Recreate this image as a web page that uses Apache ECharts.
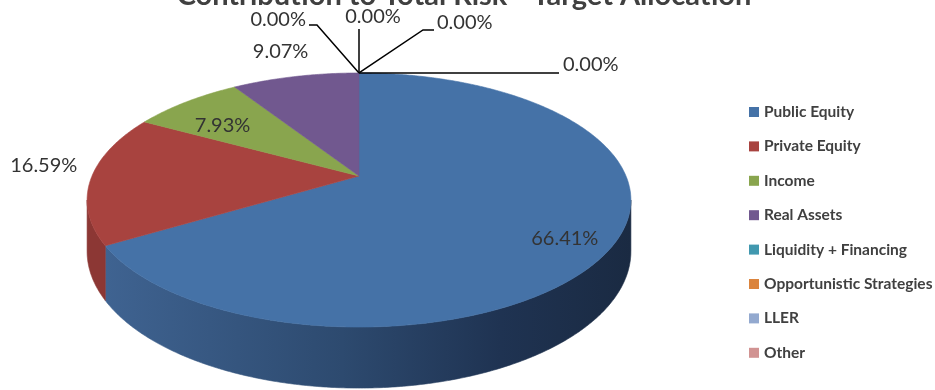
<!DOCTYPE html>
<html>
<head>
<meta charset="utf-8">
<script src="https://cdn.jsdelivr.net/npm/echarts@6/dist/echarts.min.js"></script>
<style>
  html, body { margin: 0; padding: 0; background: #ffffff; }
  #chart { width: 935px; height: 390px; }
</style>
</head>
<body>
<div id="chart"></div>
<script>
// ---- data ----
const categories = ['Public Equity', 'Private Equity', 'Income', 'Real Assets',
  'Liquidity + Financing', 'Opportunistic Strategies', 'LLER', 'Other'];
const riskShare = [66.41, 16.59, 7.93, 9.07, 0.00, 0.00, 0.00, 0.00];
const titleText = 'Contribution to Total Risk - Target Allocation';

// ---- styling ----
const topColors = ['#4572a7', '#a8433f', '#89a54e', '#71588f', '#4198af', '#db843d', '#93a9cf', '#d19392'];
const sideColors = ['#2c4770', '#8c3734', '#6f8a3c', '#5a4673', '#327f92', '#b56a2e', '#7a8fb2', '#b07a79'];
const labelFont = '20px Lato';
const labelColor = '#333333';

// perspective projection of a tilted disc: theta clockwise from 12 o'clock, r in [0,1]
const P = { cx: 359, cy: 176, A: 267, B: 122.5, k: 0.189, H: 49.5 };
function proj(theta, r) {
  const t = theta * Math.PI / 180;
  const u = r * Math.sin(t), v = r * Math.cos(t);
  const w = 1 + P.k * v;
  return [P.cx + P.A * u / w, P.cy - P.B * v / w, w];
}
// visible part of the outer wall (front half between the silhouette extremes)
const wallFrom = Math.acos(-P.k) * 180 / Math.PI;
const wallTo = 360 - wallFrom;

const total = riskShare.reduce((a, b) => a + b, 0);
const startAngle = [];
riskShare.reduce((acc, v, i) => { startAngle[i] = acc / total * 360; return acc + v; }, 0);

// how each value label is placed
const labelMode = ['inside', 'outside', 'inside', 'outside', 'leader', 'leader', 'leader', 'leader'];
// leader lines for the zero-width slices, relative to their anchor on the rim
const leaderLayout = [
  { path: [[0, 0], [-42, -48], [-50, -48]], text: [-53, -53], align: 'right' },
  { path: [[0, 0], [0, -44]], text: [14, -56], align: 'center' },
  { path: [[0, 0], [64, -43], [75, -43]], text: [78, -50], align: 'left' },
  { path: [[0, 0], [200, 0]], text: [204, -8], align: 'left' }
];

function arcPoints(a, b, r) {
  const pts = [];
  const n = Math.max(1, Math.ceil((b - a) / 0.5));
  for (let j = 0; j <= n; j++) pts.push(proj(a + (b - a) * j / n, r));
  return pts;
}

function sideFill(i) {
  if (i === 0) {
    return new echarts.graphic.LinearGradient(105, 0, 632, 0, [
      { offset: 0, color: '#3f6391' },
      { offset: 0.45, color: '#2d4a6f' },
      { offset: 0.75, color: '#1f3352' },
      { offset: 1, color: '#1a2a42' }
    ], true);
  }
  return sideColors[i];
}

function makeRender(i) {
  return function (params, api) {
    const value = riskShare[i];
    const a0 = startAngle[i];
    const a1 = a0 + value / total * 360;
    const children = [];
    const text = value.toFixed(2) + '%';
    if (value > 0) {
      // outer wall
      const wa = Math.max(a0, wallFrom), wb = Math.min(a1, wallTo);
      if (wb > wa) {
        const top = arcPoints(wa, wb, 1);
        const pts = top.map(p => [p[0], p[1]]);
        for (let j = top.length - 1; j >= 0; j--) pts.push([top[j][0], top[j][1] + P.H / top[j][2]]);
        const fill = sideFill(i);
        children.push({ type: 'polygon', z2: 1, shape: { points: pts },
          style: { fill: fill, stroke: fill, lineWidth: 0.6 } });
      }
      // top face
      const c = proj(0, 0);
      const facePts = [[c[0], c[1]]].concat(arcPoints(a0, a1, 1).map(p => [p[0], p[1]]));
      children.push({ type: 'polygon', z2: 5, shape: { points: facePts },
        style: { fill: topColors[i], stroke: topColors[i], lineWidth: 0.6 } });
      // value label
      const mid = (a0 + a1) / 2;
      let lx, ly;
      if (labelMode[i] === 'inside') {
        const p = proj(mid, 0.8); lx = p[0] + 5; ly = p[1] + 10;
      } else {
        const p = proj(mid, 1.15); lx = p[0] - 7; ly = p[1] - 13;
      }
      children.push({ type: 'text', z2: 10, x: lx, y: ly,
        style: { text: text, font: labelFont, fill: labelColor, align: 'center', verticalAlign: 'middle' } });
    } else {
      const anchor = proj(a0 % 360, 1);
      const lay = leaderLayout[i - 4];
      children.push({ type: 'polyline', z2: 8,
        shape: { points: lay.path.map(q => [anchor[0] + q[0], anchor[1] + q[1]]) },
        style: { stroke: '#000000', lineWidth: 1.5, fill: null } });
      children.push({ type: 'text', z2: 10, x: anchor[0] + lay.text[0], y: anchor[1] + lay.text[1],
        style: { text: text, font: labelFont, fill: labelColor, align: lay.align, verticalAlign: 'middle' } });
    }
    return { type: 'group', children: children };
  };
}

const series = categories.map((name, i) => ({
  type: 'custom',
  name: name,
  coordinateSystem: 'none',
  silent: true,
  animation: false,
  itemStyle: { color: topColors[i] },
  data: [[riskShare[i]]],
  renderItem: makeRender(i)
}));

const chart = echarts.init(document.getElementById('chart'), null, { renderer: 'canvas' });
chart.setOption({
  backgroundColor: '#ffffff',
  animation: false,
  graphic: [{
    type: 'text', x: 464, y: -4, z: 100,
    style: { text: titleText, font: 'bold 29px Lato', fill: '#404040', align: 'center', verticalAlign: 'middle' }
  }],
  legend: {
    orient: 'vertical', left: 749, top: 104, padding: 0,
    itemWidth: 10, itemHeight: 10, itemGap: 18.4, icon: 'rect',
    selectedMode: false,
    textStyle: { fontFamily: 'Lato', fontWeight: 'bold', fontSize: 15.5, color: '#404040', lineHeight: 16 },
    data: categories
  },
  series: series
});
</script>
</body>
</html>
